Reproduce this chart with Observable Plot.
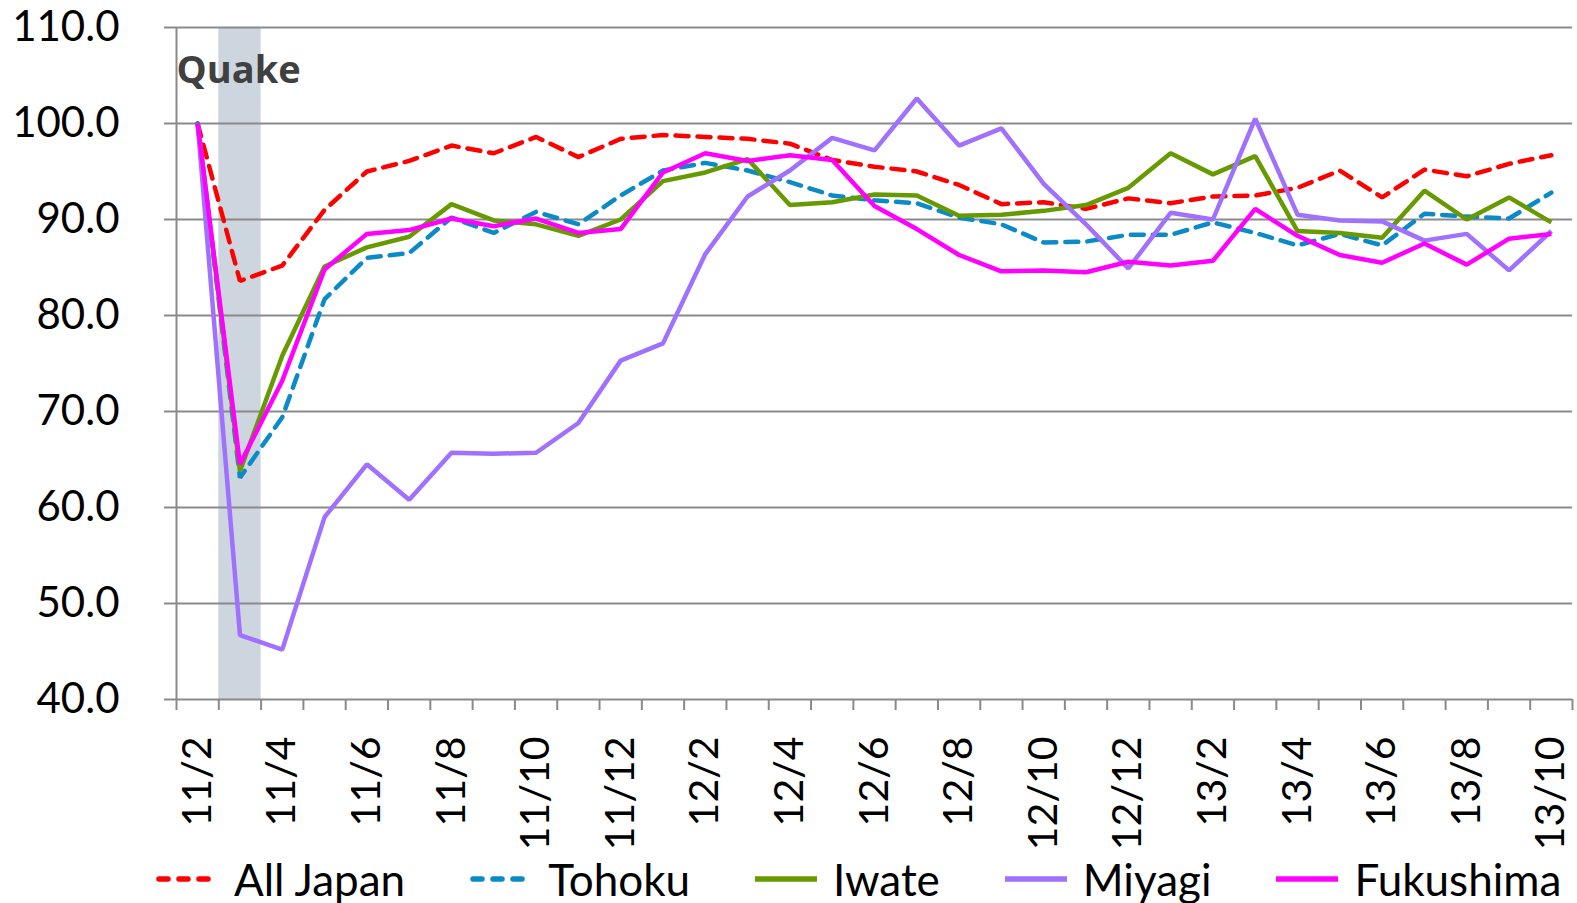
<!DOCTYPE html>
<html>
<head>
<meta charset="utf-8">
<script src="https://cdn.jsdelivr.net/npm/d3@7"></script>
<script src="https://cdn.jsdelivr.net/npm/@observablehq/plot@0.6"></script>
<style>
  html, body { margin: 0; padding: 0; background: #fff; }
  #chart { width: 1577px; height: 855px; }
  #legend { display: flex; align-items: center; gap: 65px; padding-left: 156px; height: 48px;
            font-family: Lato, "Open Sans", sans-serif; font-size: 44px; color: #000; }
  .item { display: flex; align-items: center; gap: 16px; }
</style>
</head>
<body>
<div id="chart"></div>
<div id="legend"></div>
<script>
const months = ["11/2","11/3","11/4","11/5","11/6","11/7","11/8","11/9","11/10","11/11","11/12",
  "12/1","12/2","12/3","12/4","12/5","12/6","12/7","12/8","12/9","12/10","12/11","12/12",
  "13/1","13/2","13/3","13/4","13/5","13/6","13/7","13/8","13/9","13/10"];

const allJapan = [100,83.6,85.2,91.0,95.0,96.1,97.7,96.9,98.6,96.5,98.4,98.8,98.6,98.4,97.9,96.2,95.5,95.0,93.6,91.6,91.8,91.1,92.2,91.7,92.4,92.5,93.3,95.1,92.3,95.2,94.5,95.8,96.7];
const tohoku   = [100,63.1,69.4,81.7,86.0,86.5,90.2,88.6,90.8,89.5,92.5,95.1,95.9,95.1,93.9,92.5,92.0,91.7,90.2,89.5,87.6,87.7,88.4,88.4,89.7,88.6,87.3,88.5,87.3,90.6,90.3,90.1,92.8];
const iwate    = [100,63.8,75.8,85.1,87.1,88.2,91.6,89.9,89.5,88.3,90.0,94.0,94.9,96.3,91.5,91.8,92.6,92.5,90.4,90.5,90.9,91.5,93.3,96.9,94.7,96.6,88.8,88.6,88.1,93.0,90.0,92.3,89.7];
const miyagi   = [100,46.7,45.2,59.0,64.5,60.8,65.7,65.6,65.7,68.8,75.3,77.1,86.4,92.4,95.1,98.5,97.2,102.6,97.7,99.5,93.7,89.5,84.9,90.7,90.0,100.5,90.5,89.9,89.8,87.8,88.5,84.7,88.8];
const fukushima= [100,64.5,73.2,84.8,88.5,88.9,90.1,89.3,90.1,88.6,89.0,94.9,96.9,96.1,96.7,96.2,91.4,89.0,86.3,84.6,84.7,84.5,85.6,85.2,85.7,91.1,88.3,86.3,85.5,87.5,85.3,88.0,88.5];

const yTicks = [40,50,60,70,80,90,100,110];
const quakeMonth = "11/3";
const quakeLabel = "Quake";

const series = [
  {name: "All Japan", values: allJapan, color: "#ff0000", dash: "13,9"},
  {name: "Tohoku", values: tohoku, color: "#0a8ac6", dash: "13,9"},
  {name: "Iwate", values: iwate, color: "#669a00", dash: null},
  {name: "Miyagi", values: miyagi, color: "#a070ff", dash: null},
  {name: "Fukushima", values: fukushima, color: "#ff00ff", dash: null}
];

const idx = months.map((m, i) => i);
const boundaries = d3.range(-0.5, months.length, 1);
const labelIdx = idx.filter(i => i % 2 === 0);
const qi = months.indexOf(quakeMonth);

const font = "Lato, 'Open Sans', sans-serif";

const lineMarks = series.map(s => Plot.line(s.values.map((v, i) => ({x: i, y: v})), {
  x: "x", y: "y", stroke: s.color, strokeWidth: 4.5,
  strokeDasharray: s.dash || undefined, strokeLinecap: s.dash ? "round" : "butt", strokeLinejoin: "miter"
}));

const chart = Plot.plot({
  width: 1577,
  height: 855,
  marginLeft: 176,
  marginRight: 5,
  marginTop: 27,
  marginBottom: 156,
  style: {fontFamily: font, background: "#fff", color: "#000", overflow: "visible"},
  x: {type: "linear", domain: [-0.5, months.length - 0.5]},
  y: {domain: [40, 110]},
  marks: [
    Plot.rect([{x1: qi - 0.5, x2: qi + 0.5}], {x1: "x1", x2: "x2", y1: 40, y2: 110, fill: "#cdd5df"}),
    Plot.ruleY(yTicks.slice(1), {stroke: "#8a8a8a", strokeWidth: 2}),
    Plot.ruleX([-0.5], {stroke: "#8a8a8a", strokeWidth: 2}),
    Plot.ruleY([40], {stroke: "#8a8a8a", strokeWidth: 2}),
    Plot.axisY(yTicks, {tickSize: 12, tickPadding: 45, tickFormat: d => d.toFixed(1), stroke: "#8a8a8a", strokeWidth: 2, fill: "#000", fontSize: 42, label: null}),
    Plot.axisX(boundaries, {tickSize: 11, tickFormat: () => "", stroke: "#8a8a8a", strokeWidth: 2, label: null}),
    Plot.axisX(labelIdx, {tickSize: 0, tickPadding: 37, tickRotate: -90, tickFormat: i => months[i], fill: "#000", fontSize: 41, label: null}),
    Plot.text([quakeLabel], {x: -0.5, y: 105.5, text: d => d, textAnchor: "start", dx: 0, fontSize: 38, fontWeight: "bold", fontFamily: "'Open Sans', sans-serif", fill: "#404040"}),
    ...lineMarks
  ]
});
document.getElementById("chart").appendChild(chart);

const legend = d3.select("#legend");
series.forEach(s => {
  const item = legend.append("div").attr("class", "item");
  const svg = item.append("svg").attr("width", 62).attr("height", 10);
  svg.append("line").attr("x1", s.dash ? 3 : 0).attr("x2", s.dash ? 59 : 62).attr("y1", 5).attr("y2", 5)
    .attr("stroke", s.color).attr("stroke-width", 5.5)
    .attr("stroke-dasharray", s.dash ? "9,11" : null)
    .attr("stroke-linecap", "round");
  item.append("span").text(s.name);
});
</script>
</body>
</html>
